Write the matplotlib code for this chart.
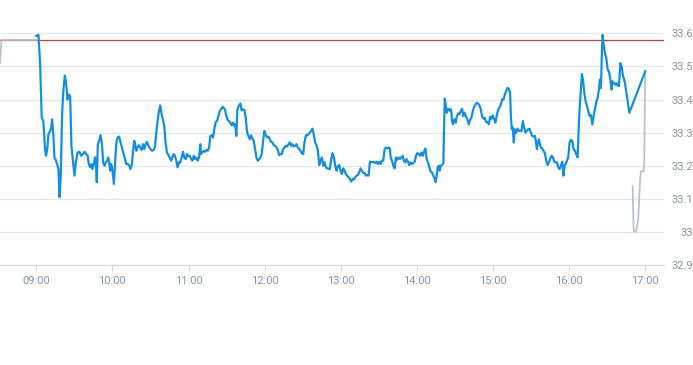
import matplotlib
matplotlib.use("Agg")
import matplotlib.pyplot as plt
import numpy as np

# ---- data -------------------------------------------------------------
# minutes after 09:00 for the intraday (blue) series
blue_min = [0, 1.7, 3.0, 4.3, 5.6, 6.9, 7.7, 8.8, 9.6, 10.9, 11.7, 12.5, 13.5, 14.3, 15.6, 16.7,
            17.5, 18.3, 19.3, 20.4, 21.4, 22.5, 23.5, 24.6, 25.6, 26.7, 27.7, 28.8, 30.1, 31.2,
            32.5, 34.0, 35.4, 36.7, 38.0, 39.3, 40.4, 41.4, 42.5, 43.5, 44.3, 45.4, 46.2, 46.9,
            47.7, 48.5, 49.6, 50.6, 51.7, 52.7, 53.8, 54.8, 55.9, 56.7, 57.5, 58.3, 59.1, 60.1,
            61.2, 62.2, 63.0, 64.0, 65.4, 66.4, 67.5, 68.5, 69.6, 70.9, 72.2, 73.3, 74.3, 75.4,
            76.2, 77.2, 78.0, 78.8, 79.8, 80.9, 81.9, 83.0, 84.1, 85.1, 86.2, 87.2, 88.3, 89.3,
            90.4, 91.4, 92.5, 93.5, 94.6, 95.6, 96.7, 97.7, 98.8, 99.8, 100.9, 101.9, 103.0,
            104.1, 105.1, 106.2, 107.2, 108.3, 109.3, 110.4, 111.4, 112.5, 113.5, 114.6, 115.6,
            116.7, 117.7, 118.8, 119.8, 120.9, 122.0, 123.0, 124.1, 125.1, 126.2, 127.2, 128.3,
            129.3, 129.8, 130.9, 131.9, 133.0, 134.1, 135.1, 136.2, 137.2, 138.3, 139.3, 140.4,
            141.4, 142.5, 143.5, 144.6, 145.6, 146.7, 147.7, 148.8, 149.8, 150.9, 151.9, 153.0,
            154.0, 155.1, 156.2, 156.7, 157.7, 158.5, 159.6, 160.9, 161.9, 163.0, 164.1, 165.1,
            166.2, 167.2, 168.3, 169.3, 170.4, 171.4, 172.5, 173.5, 174.6, 175.6, 176.7, 177.7,
            178.8, 179.8, 180.9, 182.0, 183.0, 184.1, 185.1, 186.2, 187.2, 188.3, 189.3, 190.4,
            191.4, 192.5, 193.5, 194.6, 195.6, 196.7, 197.7, 198.8, 199.8, 200.9, 201.9, 203.0,
            204.0, 205.1, 206.2, 207.2, 208.3, 209.3, 210.4, 211.4, 212.5, 213.5, 214.6, 215.6,
            216.7, 217.7, 218.8, 219.8, 220.9, 222.0, 223.0, 224.1, 225.1, 226.2, 227.2, 228.3,
            229.3, 230.4, 231.4, 232.5, 233.5, 234.6, 235.9, 236.7, 237.7, 238.8, 239.8, 240.9,
            241.9, 243.0, 244.0, 245.1, 246.2, 247.2, 248.3, 249.3, 250.4, 251.4, 252.5, 253.5,
            254.6, 255.6, 256.7, 257.7, 258.8, 259.8, 260.9, 261.9, 263.0, 264.1, 265.1, 266.2,
            267.2, 268.3, 269.3, 270.4, 271.4, 272.5, 273.5, 274.6, 275.6, 276.7, 277.7, 278.8,
            279.3, 280.4, 281.4, 282.5, 283.5, 284.6, 285.6, 286.7, 287.7, 288.8, 289.8, 290.9,
            291.9, 293.0, 294.0, 295.1, 296.2, 297.2, 298.3, 299.3, 300.4, 301.4, 302.5, 303.5,
            304.6, 305.6, 306.7, 307.7, 308.8, 309.8, 310.9, 311.9, 313.0, 314.0, 314.8, 315.6,
            316.4, 317.2, 318.0, 318.8, 319.8, 320.9, 321.4, 322.0, 322.7, 323.5, 324.3, 325.4,
            326.2, 327.0, 327.7, 328.5, 329.6, 330.6, 331.4, 332.5, 333.5, 334.6, 335.6, 336.7,
            337.7, 338.8, 339.8, 340.9, 341.9, 343.0, 344.1, 345.1, 346.2, 347.2, 348.3, 349.3,
            350.4, 351.4, 352.5, 353.5, 354.6, 355.6, 356.7, 357.7, 358.8, 359.8, 360.9, 361.9,
            363.0, 364.1, 365.1, 366.2, 367.2, 368.3, 369.3, 370.4, 371.4, 372.5, 373.5, 374.1,
            374.8, 375.6, 376.4, 377.2, 378.3, 379.3, 380.4, 381.4, 382.5, 383.5, 384.6, 385.6,
            386.7, 387.7, 388.8, 389.8, 390.9, 392.0, 393.0, 393.8, 394.6, 395.4, 396.2, 397.0,
            397.7, 398.8, 399.8, 400.9, 402.0, 403.0, 404.1, 405.1, 406.2, 407.2, 408.3, 409.3,
            410.4, 411.4, 412.5, 413.5, 414.6, 415.6, 416.4, 417.2, 418.3, 419.3, 420.4, 421.4,
            422.5, 423.5, 424.6, 425.6, 426.7, 427.7, 428.5, 429.3, 430.1, 430.9, 432.0, 433.0,
            434.1, 435.1, 436.2, 437.2, 438.3, 439.3, 440.4, 441.4, 442.5, 443.5, 444.3, 445.1,
            445.9, 446.4, 447.2, 448.3, 449.3, 450.4, 451.4, 452.5, 453.5, 454.1, 455.1, 456.2,
            457.2, 458.3, 459.3, 460.4, 461.4, 462.5, 463.5, 464.6, 465.6, 466.7, 467.5, 480.0]

blue_val = [33.592, 33.595, 33.51, 33.345, 33.335, 33.25, 33.23, 33.255, 33.295, 33.305, 33.315, 33.34,
            33.29, 33.225, 33.215, 33.20, 33.19, 33.105, 33.17, 33.36, 33.43, 33.472, 33.45, 33.40,
            33.415, 33.41, 33.26, 33.22, 33.17, 33.21, 33.24, 33.242, 33.23, 33.235, 33.242, 33.235,
            33.232, 33.205, 33.195, 33.205, 33.19, 33.205, 33.225, 33.22, 33.15, 33.265, 33.275,
            33.292, 33.27, 33.21, 33.20, 33.21, 33.215, 33.225, 33.21, 33.185, 33.205, 33.185,
            33.145, 33.21, 33.265, 33.285, 33.288, 33.27, 33.255, 33.24, 33.225, 33.205, 33.205,
            33.20, 33.19, 33.205, 33.24, 33.275, 33.265, 33.245, 33.255, 33.262, 33.255, 33.248,
            33.265, 33.25, 33.265, 33.272, 33.26, 33.255, 33.248, 33.245, 33.248, 33.255, 33.30,
            33.335, 33.365, 33.382, 33.355, 33.34, 33.32, 33.27, 33.24, 33.232, 33.225, 33.215,
            33.225, 33.235, 33.23, 33.215, 33.195, 33.21, 33.21, 33.225, 33.242, 33.225, 33.22,
            33.235, 33.228, 33.23, 33.222, 33.215, 33.23, 33.22, 33.225, 33.215, 33.225, 33.265,
            33.235, 33.24, 33.245, 33.242, 33.248, 33.245, 33.255, 33.29, 33.292, 33.285, 33.312,
            33.332, 33.335, 33.35, 33.365, 33.37, 33.378, 33.375, 33.368, 33.35, 33.338, 33.335,
            33.33, 33.322, 33.33, 33.32, 33.325, 33.29, 33.37, 33.38, 33.388, 33.367, 33.37,
            33.368, 33.345, 33.30, 33.29, 33.28, 33.292, 33.282, 33.275, 33.25, 33.225, 33.215,
            33.22, 33.225, 33.235, 33.275, 33.305, 33.292, 33.285, 33.288, 33.28, 33.272, 33.27,
            33.262, 33.26, 33.255, 33.248, 33.232, 33.235, 33.235, 33.25, 33.255, 33.26, 33.258,
            33.265, 33.27, 33.26, 33.265, 33.258, 33.26, 33.265, 33.255, 33.25, 33.245, 33.238,
            33.235, 33.27, 33.292, 33.292, 33.295, 33.30, 33.305, 33.312, 33.292, 33.27, 33.262,
            33.245, 33.202, 33.215, 33.225, 33.20, 33.21, 33.195, 33.192, 33.19, 33.19, 33.22,
            33.238, 33.225, 33.195, 33.185, 33.198, 33.202, 33.185, 33.175, 33.192, 33.185,
            33.175, 33.17, 33.165, 33.16, 33.152, 33.16, 33.158, 33.165, 33.17, 33.172, 33.18,
            33.192, 33.185, 33.178, 33.178, 33.17, 33.172, 33.17, 33.212, 33.212, 33.21, 33.212,
            33.208, 33.212, 33.205, 33.212, 33.205, 33.215, 33.215, 33.25, 33.255, 33.252, 33.255,
            33.252, 33.225, 33.215, 33.20, 33.192, 33.225, 33.218, 33.225, 33.22, 33.225, 33.23,
            33.215, 33.21, 33.22, 33.212, 33.202, 33.21, 33.205, 33.208, 33.212, 33.23, 33.238,
            33.235, 33.23, 33.24, 33.23, 33.242, 33.252, 33.22, 33.21, 33.195, 33.182, 33.18,
            33.17, 33.16, 33.15, 33.17, 33.195, 33.20, 33.185, 33.20, 33.202, 33.208, 33.31,
            33.403, 33.385, 33.36, 33.37, 33.372, 33.365, 33.37, 33.335, 33.325, 33.34, 33.33,
            33.348, 33.358, 33.355, 33.365, 33.372, 33.35, 33.36, 33.348, 33.34, 33.325, 33.338,
            33.345, 33.365, 33.378, 33.385, 33.39, 33.388, 33.382, 33.37, 33.348, 33.342, 33.345,
            33.332, 33.332, 33.325, 33.348, 33.342, 33.352, 33.34, 33.33, 33.352, 33.37, 33.375,
            33.385, 33.40, 33.40, 33.415, 33.425, 33.435, 33.432, 33.42, 33.35, 33.31, 33.315,
            33.27, 33.31, 33.30, 33.312, 33.305, 33.305, 33.305, 33.335, 33.315, 33.30, 33.305,
            33.31, 33.312, 33.30, 33.29, 33.288, 33.29, 33.275, 33.25, 33.27, 33.28, 33.265,
            33.255, 33.252, 33.245, 33.238, 33.215, 33.202, 33.21, 33.222, 33.23, 33.225, 33.212,
            33.21, 33.21, 33.195, 33.19, 33.20, 33.212, 33.17, 33.20, 33.205, 33.215, 33.225,
            33.27, 33.278, 33.275, 33.25, 33.245, 33.235, 33.225, 33.33, 33.385, 33.43, 33.477,
            33.46, 33.42, 33.395, 33.38, 33.365, 33.35, 33.352, 33.325, 33.35, 33.372, 33.392,
            33.405, 33.43, 33.46, 33.435, 33.55, 33.595, 33.565, 33.54, 33.525, 33.49, 33.485,
            33.46, 33.43, 33.455, 33.45, 33.445, 33.45, 33.442, 33.44, 33.51, 33.50, 33.47,
            33.46, 33.435, 33.41, 33.38, 33.36, 33.485]

# pre-market / after-hours (grey) segments, minutes after 09:00
pre_min = [-28.6, -27.4, 0.0]
pre_val = [33.51, 33.58, 33.58]
post_min = [470.1, 470.9, 472.7, 474.5, 475.8, 476.6, 478.7, 479.2, 480.0]
post_val = [33.138, 33.002, 33.0, 33.038, 33.149, 33.183, 33.183, 33.208, 33.487]

prev_close = 33.58
y_ticks = [32.9, 33.0, 33.1, 33.2, 33.3, 33.4, 33.5, 33.6]
y_labels = ["32.9", "33", "33.1", "33.2", "33.3", "33.4", "33.5", "33.6"]
x_hours = [9, 10, 11, 12, 13, 14, 15, 16, 17]
x_labels = ["09:00", "10:00", "11:00", "12:00", "13:00", "14:00", "15:00", "16:00", "17:00"]

# ---- figure -----------------------------------------------------------
W, H = 693, 365
fig = plt.figure(figsize=(W / 100, H / 100), dpi=100)
ax = fig.add_axes([0, 100 / H, 664 / W, (265 - 33.3) / H])

tick_col = "#8a949e"
grid_col = "#e3e6ea"

def hrs(m):
    return 9 + np.asarray(m, dtype=float) / 60.0

ax.axhline(prev_close, color="#d63a3a", lw=0.9, zorder=2)
ax.plot(hrs(pre_min), pre_val, color="#b7c3cf", lw=1.3, zorder=3)
ax.plot(hrs(post_min), post_val, color="#b7c3cf", lw=1.3, zorder=3, clip_on=False)
ax.plot(hrs(blue_min), blue_val, color="#128fe0", lw=1.6, zorder=4, clip_on=False,
        solid_joinstyle="round")

ax.set_xlim(hrs(-28.6), hrs(494.8))
ax.set_ylim(32.9, 33.6)

ax.set_yticks(y_ticks)
ax.set_yticklabels(y_labels)
ax.set_xticks(x_hours)
ax.set_xticklabels(x_labels)

ax.yaxis.tick_right()
ax.grid(axis="y", color=grid_col, lw=0.9)
ax.set_axisbelow(True)
for s in ["top", "left", "right"]:
    ax.spines[s].set_visible(False)
ax.spines["bottom"].set_color("#d3d9df")
ax.spines["bottom"].set_linewidth(0.9)

ax.tick_params(axis="y", length=0, pad=21, labelcolor=tick_col, labelsize=8)
ax.tick_params(axis="x", length=4, width=0.8, color="#d3d9df", pad=4,
               labelcolor=tick_col, labelsize=8)
for lbl in ax.get_yticklabels():
    lbl.set_horizontalalignment("right")
    lbl.set_family("Roboto")
for lbl in ax.get_xticklabels():
    lbl.set_family("Roboto")

fig.savefig("out.png", dpi=100)
